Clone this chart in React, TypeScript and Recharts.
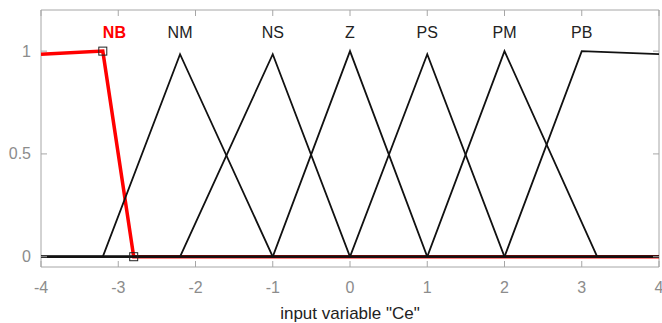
import { Line, LineChart, ReferenceArea, ReferenceDot, XAxis, YAxis } from "recharts";

const FONT = '"Liberation Sans", Arial, Helvetica, sans-serif';
const FRAME = "#a6a6a6";
const TICK_TEXT = "#8c8c8c";

const X_TICKS = [-4, -3, -2, -1, 0, 1, 2, 3, 4];
const Y_TICKS = [0, 0.5, 1];

const MF_NAMES = ["NB", "NM", "NS", "Z", "PS", "PM", "PB"];
const MF_LABEL_X = [-3.05, -2.2, -1, 0, 1, 2, 3];
const MF_LABEL_Y = 1.09;

// membership functions, sampled breakpoints
const NB = [
  { x: -4, y: 0.985 },
  { x: -3.2, y: 1 },
  { x: -2.8, y: 0 },
  { x: 4, y: 0 },
];
const NB_HANDLES = [-3.2, -2.8];
const NM = [
  { x: -4, y: 0 },
  { x: -3.2, y: 0 },
  { x: -2.2, y: 0.985 },
  { x: -1, y: 0 },
  { x: 4, y: 0 },
];
const NS = [
  { x: -4, y: 0 },
  { x: -2.2, y: 0 },
  { x: -1, y: 0.985 },
  { x: 0, y: 0 },
  { x: 4, y: 0 },
];
const Z = [
  { x: -4, y: 0 },
  { x: -1, y: 0 },
  { x: 0, y: 1 },
  { x: 1, y: 0 },
  { x: 4, y: 0 },
];
const PS = [
  { x: -4, y: 0 },
  { x: 0, y: 0 },
  { x: 1, y: 0.985 },
  { x: 2, y: 0 },
  { x: 4, y: 0 },
];
const PM = [
  { x: -4, y: 0 },
  { x: 1, y: 0 },
  { x: 2, y: 1 },
  { x: 3.2, y: 0 },
  { x: 4, y: 0 },
];
const PB = [
  { x: -4, y: 0 },
  { x: 2, y: 0 },
  { x: 3, y: 1 },
  { x: 4, y: 0.985 },
];

const W = 662;
const H = 323;
const M = { top: 10, right: 3, left: 0, bottom: 0 };
const Y_AXIS_W = 41;
const X_AXIS_H = 56;
const PLOT_TOP = M.top;
const PLOT_RIGHT = W - M.right;
const TICK = 6;

function XTick({ x, y, payload }: any) {
  return (
    <g>
      <line x1={x} x2={x} y1={y} y2={y - TICK} stroke={FRAME} />
      <line x1={x} x2={x} y1={PLOT_TOP} y2={PLOT_TOP + TICK} stroke={FRAME} />
      <text x={x} y={y + 20} textAnchor="middle" dominantBaseline="central" fill={TICK_TEXT} fontSize={16} fontFamily={FONT}>
        {payload.value}
      </text>
    </g>
  );
}

function YTick({ x, y, payload }: any) {
  return (
    <g>
      <line x1={x} x2={x + TICK} y1={y} y2={y} stroke={FRAME} />
      <line x1={PLOT_RIGHT} x2={PLOT_RIGHT - TICK} y1={y} y2={y} stroke={FRAME} />
      <text x={x - 10} y={y} textAnchor="end" dominantBaseline="central" fill={TICK_TEXT} fontSize={16} fontFamily={FONT}>
        {payload.value}
      </text>
    </g>
  );
}

function HandleDot(props: any) {
  const { cx, cy, payload, index } = props;
  if (!NB_HANDLES.includes(payload.x)) return <g key={index} />;
  return <rect key={index} x={cx - 4} y={cy - 4} width={8} height={8} fill="none" stroke="#222" strokeWidth={1} />;
}

export default function App() {
  const blacks = [NM, NS, Z, PS, PM, PB];
  return (
    <div style={{ position: "absolute", left: 0, top: 0, background: "#fff" }}>
      <LineChart width={W} height={H} margin={M}>
        <XAxis
          dataKey="x"
          type="number"
          domain={[-4, 4]}
          ticks={X_TICKS}
          allowDataOverflow
          axisLine={false}
          tickLine={false}
          tickSize={0}
          tickMargin={0}
          height={X_AXIS_H}
          tick={<XTick />}
          interval={0}
          label={{
            value: 'input variable "Ce"',
            position: "insideBottom",
            offset: 4,
            fill: "#222",
            fontSize: 17,
            fontFamily: FONT,
          }}
        />
        <YAxis
          type="number"
          domain={[-0.05, 1.2]}
          ticks={Y_TICKS}
          allowDataOverflow
          axisLine={false}
          tickLine={false}
          tickSize={0}
          tickMargin={0}
          width={Y_AXIS_W}
          tick={<YTick />}
          interval={0}
        />
        <ReferenceArea x1={-4} x2={4} y1={-0.05} y2={1.2} fill="none" stroke={FRAME} strokeWidth={1} />
        <Line
          data={NB}
          dataKey="y"
          stroke="#ff0000"
          strokeWidth={3.5}
          dot={HandleDot}
          activeDot={false}
          isAnimationActive={false}
        />
        {blacks.map((mf, i) => (
          <Line
            key={i}
            data={mf}
            dataKey="y"
            stroke="#111"
            strokeWidth={1.8}
            dot={false}
            activeDot={false}
            isAnimationActive={false}
          />
        ))}
        {MF_NAMES.map((name, i) => (
          <ReferenceDot
            key={name}
            x={MF_LABEL_X[i]}
            y={MF_LABEL_Y}
            r={0}
            shape={(p: any) => (
              <text
                x={p.cx}
                y={p.cy}
                textAnchor="middle"
                dominantBaseline="central"
                fontSize={16}
                fontFamily={FONT}
                fontWeight={i === 0 ? "bold" : "normal"}
                fill={i === 0 ? "#ff0000" : "#222"}
              >
                {name}
              </text>
            )}
          />
        ))}
      </LineChart>
    </div>
  );
}
